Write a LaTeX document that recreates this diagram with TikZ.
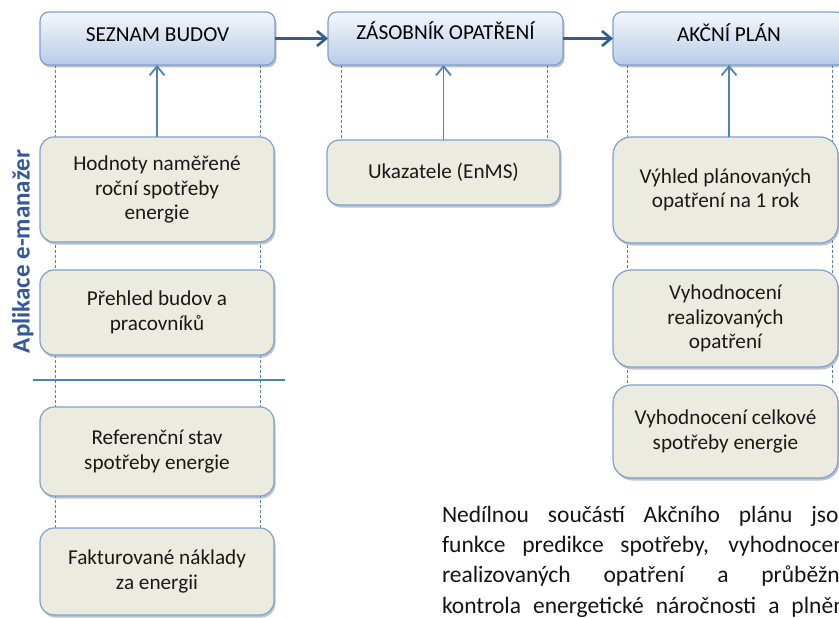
\documentclass[tikz,border=0pt]{standalone}
\usepackage{fontspec}
\setmainfont{Carlito}
\usetikzlibrary{arrows.meta,shadows,backgrounds}
\definecolor{bordc}{RGB}{126,160,206}
\definecolor{boxf}{RGB}{236,235,224}
\definecolor{headtop}{RGB}{244,247,252}
\definecolor{headbot}{RGB}{184,204,230}
\definecolor{darkarr}{RGB}{52,92,148}
\definecolor{midblue}{RGB}{79,129,189}
\definecolor{labblue}{RGB}{49,89,155}
\definecolor{shadc}{RGB}{140,155,180}
\begin{document}
\begin{tikzpicture}[x=1pt,y=-1pt,
  headbox/.style={draw=bordc, line width=1.2pt, rounded corners=9pt,
    top color=headtop, bottom color=headbot, minimum height=53pt,
    inner sep=0pt, outer sep=0pt, font=\fontsize{21.3}{25}\selectfont,
    drop shadow={shadow xshift=1.5pt, shadow yshift=-2.5pt, opacity=0.45, fill=black!55}},
  itembox/.style={draw=bordc, line width=1.2pt, rounded corners=14pt, fill=boxf,
    inner sep=0pt, outer sep=0pt, align=center, text=black!90,
    font=\fontsize{21.2}{24.5}\selectfont,
    drop shadow={shadow xshift=1.5pt, shadow yshift=-2.5pt, opacity=0.6, fill=shadc}},
  dashline/.style={midblue, dash pattern=on 3pt off 2pt, line width=0.9pt},
  uparrow/.style={midblue, line width=1.8pt, -{Straight Barb[length=9pt,width=15pt]}},
  flowarrow/.style={darkarr, line width=2.6pt, -{Straight Barb[length=9pt,width=15pt]}},
  sepline/.style={midblue, line width=1.3pt},
  para/.style={inner sep=0pt, outer sep=0pt, text=black!92, font=\fontsize{23.5}{30}\selectfont},
  sidelabel/.style={inner sep=0pt, text=labblue, font=\fontsize{25}{30}\selectfont\bfseries}
]
\useasboundingbox (0,0) rectangle (839,618);
\clip (0,0) rectangle (839,618);

% header boxes
\node[headbox, minimum width=235pt, text height=10pt, text depth=3.6pt] (seznam) at (157.5,38.5) {SEZNAM BUDOV};
\node[headbox, minimum width=235pt, text height=10pt, text depth=7pt] (zas) at (445.5,38.5) {ZÁSOBNÍK OPATŘENÍ};
\node[headbox, minimum width=232pt, text height=10pt, text depth=3.6pt] (akc) at (729,38.5) {AKČNÍ PLÁN};

% left column
\node[itembox, minimum width=234pt, minimum height=105pt] (hod) at (157,189.5) {Hodnoty naměřené\\roční spotřeby\\energie};
\node[itembox, minimum width=234pt, minimum height=85pt] (pre) at (157,312.5) {Přehled budov a\\pracovníků};
\node[itembox, minimum width=234pt, minimum height=89pt] (ref) at (157,451.5) {Referenční stav\\spotřeby energie};
\node[itembox, minimum width=234pt, minimum height=87pt] (fak) at (157,571.5) {Fakturované náklady\\za energii};

% middle column
\node[itembox, minimum width=233pt, minimum height=65pt, rounded corners=12pt] (uka) at (443.5,172.5) {Ukazatele (EnMS)};

% right column
\node[itembox, minimum width=225pt, minimum height=106pt, rounded corners=18pt] (vyh) at (725.5,190) {Výhled plánovaných\\opatření na 1 rok};
\node[itembox, minimum width=225pt, minimum height=97pt, rounded corners=18pt] (real) at (725.5,318.5) {Vyhodnocení\\realizovaných\\opatření};
\node[itembox, minimum width=225pt, minimum height=93pt, rounded corners=18pt] (celk) at (725.5,431.5) {Vyhodnocení celkové\\spotřeby energie};

% dashed guide lines behind the boxes
\begin{scope}[on background layer]
\draw[dashline] ([xshift=15pt]seznam.south west) -- ([xshift=15pt]seznam.south west |- fak.south);
\draw[dashline] ([xshift=-15pt]seznam.south east) -- ([xshift=-15pt]seznam.south east |- fak.south);
\draw[dashline] ([xshift=13pt]zas.south west) -- ([xshift=13pt]zas.south west |- uka.north);
\draw[dashline] ([xshift=-16pt]zas.south east) -- ([xshift=-16pt]zas.south east |- uka.north);
\draw[dashline] ([xshift=14pt]akc.south west) -- ([xshift=14pt]akc.south west |- celk.north);
\draw[dashline] ([xshift=-13pt]akc.south east) -- ([xshift=-13pt]akc.south east |- celk.north);
\end{scope}

% separator line
\coordinate (sepL) at (33,380);
\coordinate (sepR) at (285,380);
\draw[sepline] (sepL) -- (sepR);

% arrows
\draw[flowarrow] (seznam.east) -- (zas.west);
\draw[flowarrow] (zas.east) -- (akc.west);
\draw[uparrow] (hod.north) -- (hod.north |- seznam.south);
\draw[uparrow] (uka.north) -- (uka.north |- zas.south);
\draw[uparrow] (akc.south |- vyh.north) -- (akc.south);

% side label
\node[sidelabel, rotate=90, anchor=base] (applabel) at (29.5,251.5) {Aplikace e-manažer};

% paragraph
\node[para, anchor=base west] (p1) at (442,522) {\makebox[409pt][s]{Nedílnou součástí Akčního plánu jsou}};
\node[para, anchor=base west] (p2) at (442,552) {\makebox[409pt][s]{funkce predikce spotřeby, vyhodnocení}};
\node[para, anchor=base west] (p3) at (442,582.5) {\makebox[409pt][s]{realizovaných opatření a průběžná}};
\node[para, anchor=base west] (p4) at (442,613) {\makebox[409pt][s]{kontrola energetické náročnosti a plnění}};
\end{tikzpicture}
\end{document}
